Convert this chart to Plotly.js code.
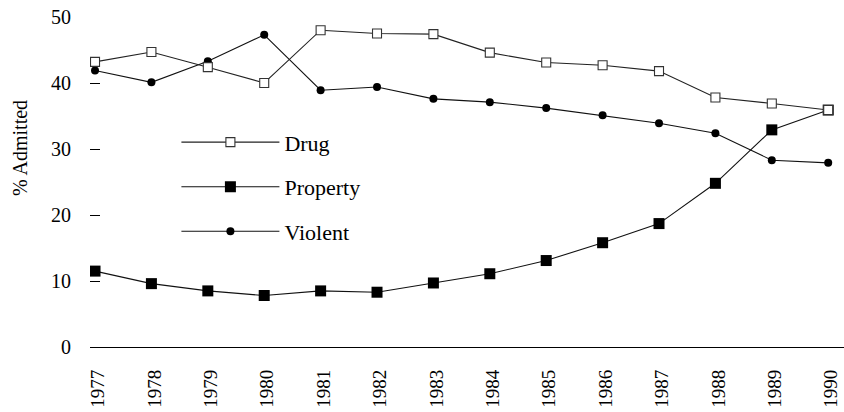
<!DOCTYPE html>
<html>
<head>
<meta charset="utf-8">
<script src="https://cdn.plot.ly/plotly-3.0.1.min.js"></script>
<style>html,body{margin:0;padding:0;background:#fff;}#chart{width:844px;height:412px;}</style>
</head>
<body>
<div id="chart"></div>
<script>
var years = [1977, 1978, 1979, 1980, 1981, 1982, 1983, 1984, 1985, 1986, 1987, 1988, 1989, 1990];
var yearLabels = ["1977", "1978", "1979", "1980", "1981", "1982", "1983", "1984", "1985", "1986", "1987", "1988", "1989", "1990"];
var drug = [43.2, 44.7, 42.4, 40.0, 48.0, 47.5, 47.4, 44.6, 43.1, 42.7, 41.8, 37.8, 36.9, 35.9];
var property = [11.5, 9.6, 8.5, 7.8, 8.5, 8.3, 9.7, 11.1, 13.1, 15.8, 18.7, 24.8, 32.9, 35.9];
var violent = [41.9, 40.1, 43.3, 47.3, 38.9, 39.4, 37.6, 37.1, 36.2, 35.1, 33.9, 32.4, 28.3, 27.9];
var yTicks = [0, 10, 20, 30, 40, 50];
var yTitle = "% Admitted";

var serif = "Liberation Serif, Times New Roman, serif";

var traces = [
  {x: years, y: property, name: "Property", type: "scatter", mode: "lines+markers",
   legendgroup: "p", legendrank: 2,
   line: {color: "#111", width: 1.1},
   marker: {symbol: "square", size: 11, color: "#000", line: {width: 0}}},
  {x: years, y: violent, name: "Violent", type: "scatter", mode: "lines+markers",
   legendgroup: "v", legendrank: 3,
   line: {color: "#111", width: 1.1},
   marker: {symbol: "circle", size: 8, color: "#000", line: {width: 0}}},
  {x: years, y: drug, name: "Drug", type: "scatter", mode: "lines+markers",
   legendgroup: "d", legendrank: 1,
   line: {color: "#222", width: 1.1},
   marker: {symbol: "square", size: 9, color: "#fff", line: {width: 1.1, color: "#333"}}}
];

var layout = {
  width: 844, height: 412,
  margin: {l: 90, r: 0, t: 17, b: 65},
  paper_bgcolor: "#fff", plot_bgcolor: "#fff",
  font: {family: serif, color: "#000", size: 20},
  showlegend: true,
  legend: {x: 0.1146, y: 0.684, xanchor: "left", yanchor: "top",
    font: {family: serif, size: 22, color: "#000"},
    bgcolor: "rgba(0,0,0,0)", borderwidth: 0,
    itemwidth: 98, tracegroupgap: 13, traceorder: "grouped"},
  xaxis: {
    range: [1976.911, 1990.28],
    tickvals: years, ticktext: yearLabels,
    tickangle: -90, ticks: "", showgrid: false, zeroline: false,
    showline: true, linecolor: "#000", linewidth: 1.2,
    tickfont: {family: serif, size: 19, color: "#000"},
    ticklabelshift: 3, ticklabelstandoff: 14, ticklabeloverflow: "allow"
  },
  yaxis: {
    range: [0, 50],
    tickvals: yTicks, ticktext: yTicks.map(String),
    ticks: "inside", ticklen: 10, tickwidth: 1, tickcolor: "#000",
    showgrid: false, zeroline: false, showline: false,
    tickfont: {family: serif, size: 20, color: "#000"},
    ticklabelstandoff: 18
  },
  annotations: [
    {text: yTitle, xref: "paper", yref: "paper", x: -0.0928, y: 0.603,
     xanchor: "center", yanchor: "middle", textangle: -90, showarrow: false,
     font: {family: serif, size: 20, color: "#000"}}
  ]
};

Plotly.newPlot("chart", traces, layout, {displayModeBar: false, staticPlot: true});
</script>
</body>
</html>
